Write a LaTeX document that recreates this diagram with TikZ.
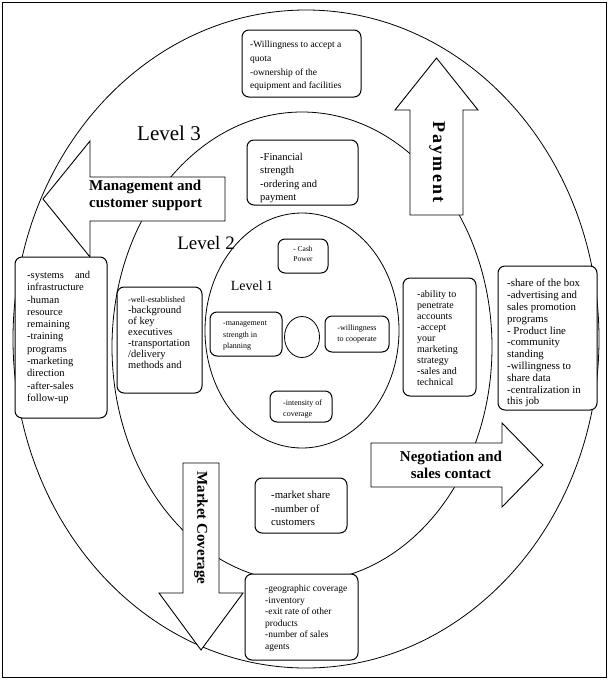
\documentclass[tikz,border=0pt]{standalone}
\usepackage{fontspec}
\setmainfont{Liberation Serif}
\newfontfamily\spacedserif[LetterSpace=12]{Liberation Serif}
\newcommand{\fsz}[2]{\fontsize{#1}{#2}\selectfont}
\tikzset{
  ring/.style={draw, line width=0.8pt},
  infobox/.style={draw, rounded corners=7pt, line width=1pt, fill=white},
  boxtext/.style={anchor=north west, inner sep=0pt, align=left},
  ctext/.style={anchor=north, inner sep=0pt, align=center},
  bigarrow/.style={draw, line width=0.9pt, fill=white, line join=miter},
  arrowlabel/.style={font=\bfseries\fsz{15}{17}, inner sep=0pt},
  levellabel/.style={inner sep=0pt},
}
\begin{document}
\begin{tikzpicture}[x=1pt,y=-1pt]
\useasboundingbox (0,0) rectangle (610,681);
% frame
\draw[line width=0.9pt] (2.5,2.5) rectangle (606.5,677.5);
% rings
\draw[ring] (306,339) ellipse [x radius=293, y radius=329];
\draw[ring] (302,347) ellipse [x radius=190, y radius=235];
\draw[ring] (302,330.5) ellipse [x radius=97, y radius=117.5];
\draw[ring] (302,337) ellipse [x radius=17.5, y radius=20.5];
% arrows
\draw[bigarrow] (410,215) -- (410,110) -- (395,110) -- (436.5,58) -- (478,110) -- (463,110) -- (463,215) -- cycle;
\draw[bigarrow] (225,177) -- (90,177) -- (90,141) -- (43,199) -- (90,257) -- (90,221) -- (225,221) -- cycle;
\draw[bigarrow] (371,443) -- (502,443) -- (502,423) -- (543,465) -- (502,507) -- (502,487) -- (371,487) -- cycle;
\draw[bigarrow] (183,463) -- (219,463) -- (219,593) -- (243,593) -- (201,650) -- (159,593) -- (183,593) -- cycle;
\node[inner sep=0pt, font=\spacedserif\bfseries\fsz{18}{21}, rotate=-90] (payl) at (437,162) {Payment};
\node[arrowlabel, align=left, anchor=north west] (mgtl) at (89,180) {Management and\\customer support};
\node[arrowlabel, align=center] (negl) at (451,465) {Negotiation and\\sales contact};
\node[arrowlabel, rotate=-90] (mktl) at (201,528) {Market Coverage};
% level labels
\node[levellabel, font=\fsz{21}{24}] (lv3) at (169,133) {Level 3};
\node[levellabel, font=\fsz{19}{22}] (lv2) at (206,243) {Level 2};
\node[levellabel, font=\fsz{14}{17}] (lv1) at (252,286) {Level 1};
% boxes
\draw[infobox] (242,30) rectangle (361,97);
\node[boxtext, font=\fsz{9.5}{13.7}] (t1) at (250,41) {-Willingness to accept a\\quota\\-ownership of the\\equipment and facilities};
\draw[infobox] (247,140) rectangle (358,205);
\begin{scope}
\clip[rounded corners=7pt] (247.5,140.5) rectangle (357.5,204.5);
\node[boxtext, font=\fsz{10.5}{13.4}] (t2) at (260,153) {-Financial\\strength\\-ordering and\\payment};
\end{scope}
\draw[infobox] (278,239) rectangle (328,273);
\node[ctext, font=\fsz{7.5}{10.5}] (t3) at (303,246) {- Cash\\Power};
\draw[infobox] (210,312) rectangle (282,356);
\node[boxtext, font=\fsz{8}{11.3}] (t4) at (223,321) {-management\\strength in\\planning};
\draw[infobox] (325,316) rectangle (389,352);
\node[ctext, font=\fsz{8}{10.5}] (t5) at (357,325) {-willingness\\to cooperate};
\draw[infobox] (270,391) rectangle (332,422);
\node[boxtext, font=\fsz{8}{10.5}] (t6) at (283,400) {-intensity of\\coverage};
\draw[infobox] (117,287) rectangle (202,393);
\node[boxtext, font=\fsz{10.5}{11}] (t7) at (128,297) {{\fsz{8.3}{11}-well-established}\\-background\\of key\\executives\\-transportation\\/delivery\\methods and};
\draw[infobox] (15,257) rectangle (107,418);
\node[boxtext, font=\fsz{10.5}{12.3}] (t8) at (27,271) {\hbox to 63pt{-systems\hfill and}\\infrastructure\\-human\\resource\\remaining\\-training\\programs\\-marketing\\direction\\-after-sales\\follow-up};
\draw[infobox] (403,278) rectangle (476,396);
\node[boxtext, font=\fsz{10}{11.1}] (t9) at (417,290) {-ability to\\penetrate\\accounts\\-accept\\your\\marketing\\strategy\\-sales and\\technical};
\draw[infobox] (498,266) rectangle (597,410);
\node[boxtext, font=\fsz{10.8}{11.8}] (t10) at (507,279) {-share of the box\\-advertising and\\sales promotion\\programs\\- Product line\\-community\\standing\\-willingness to\\share data\\-centralization in\\this job};
\draw[infobox] (255,478) rectangle (347,533);
\node[boxtext, font=\fsz{10.8}{13.3}] (t11) at (271,491) {-market share\\-number of\\customers};
\draw[infobox] (245,574) rectangle (358,660);
\node[boxtext, font=\fsz{9.5}{11.5}] (t12) at (265,585) {-geographic coverage\\-inventory\\-exit rate of other\\products\\-number of sales\\agents};
\end{tikzpicture}
\end{document}
